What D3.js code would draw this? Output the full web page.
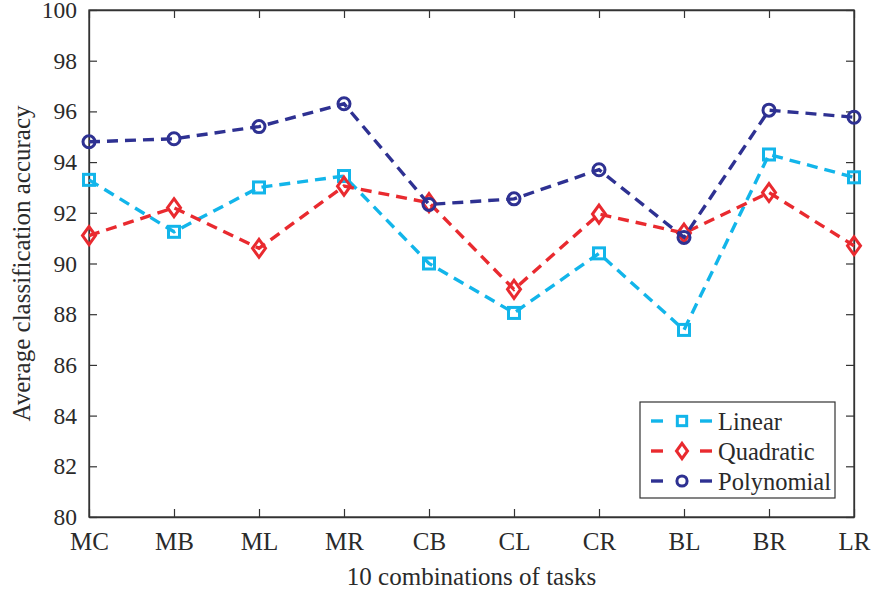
<!DOCTYPE html>
<html><head><meta charset="utf-8">
<script src="https://cdn.jsdelivr.net/npm/d3@7"></script>
<style>body{margin:0;background:#fff}svg{display:block}svg text{font-family:"Liberation Serif","Times New Roman",Times,serif}</style>
</head><body>
<script>
const categories = ["MC","MB","ML","MR","CB","CL","CR","BL","BR","LR"];
const linear     = [93.3, 91.25, 93.0, 93.45, 90.0, 88.05, 90.4, 87.38, 94.3, 93.4];
const quadratic  = [91.1, 92.2, 90.6, 93.05, 92.4, 88.98, 91.95, 91.2, 92.8, 90.7];
const polynomial = [94.8, 94.92, 95.4, 96.3, 92.33, 92.55, 93.7, 91.03, 96.05, 95.77];
const yTicks = [80,82,84,86,88,90,92,94,96,98,100];
const seriesNames = ["Linear","Quadratic","Polynomial"];

const W = 874, H = 591;
const m = {left:89, right:20, top:10, bottom:74};
const svg = d3.select("body").append("svg").attr("width",W).attr("height",H);
const font = "Liberation Serif, Times New Roman, Times, serif";
const axisColor = "#333";

const x = d3.scalePoint().domain(categories).range([m.left, W-m.right]);
const y = d3.scaleLinear().domain([80,100]).range([H-m.bottom, m.top]);

const iw = W-m.right-m.left;
const tickLen = 8;

// frame
svg.append("rect").attr("x",m.left).attr("y",m.top).attr("width",iw).attr("height",y(80)-m.top)
  .attr("fill","none").attr("stroke",axisColor).attr("stroke-width",1.3);

// axes
const gx = svg.append("g").attr("transform",`translate(0,${y(80)})`)
  .call(d3.axisBottom(x).tickSizeInner(-tickLen).tickSizeOuter(0).tickPadding(15));
const gxt = svg.append("g").attr("transform",`translate(0,${m.top})`)
  .call(d3.axisTop(x).tickSizeInner(-tickLen).tickSizeOuter(0).tickFormat(""));
const gy = svg.append("g").attr("transform",`translate(${m.left},0)`)
  .call(d3.axisLeft(y).tickValues(yTicks).tickSizeInner(-tickLen).tickSizeOuter(0).tickPadding(12));
const gyr = svg.append("g").attr("transform",`translate(${W-m.right},0)`)
  .call(d3.axisRight(y).tickValues(yTicks).tickSizeInner(-tickLen).tickSizeOuter(0).tickFormat(""));
[gx,gxt,gy,gyr].forEach(g=>{
  g.attr("font-family",font);
  g.select(".domain").attr("stroke",axisColor).attr("stroke-width",1.3);
  g.selectAll(".tick line").attr("stroke",axisColor).attr("stroke-width",1.2);
  g.selectAll(".tick text").attr("fill","#2a2a2a").attr("font-family",font);
});
gx.selectAll(".tick text").attr("dy","0.71em").style("font-size","25px");
gy.selectAll(".tick text").style("font-size","23.5px");

// axis titles
svg.append("text").attr("x",(m.left+W-m.right)/2).attr("y",585).attr("text-anchor","middle")
  .attr("font-family",font).style("font-size","25px").attr("fill","#2a2a2a").text("10 combinations of tasks");
svg.append("text").attr("transform",`translate(30,${(m.top+y(80))/2}) rotate(-90)`).attr("text-anchor","middle")
  .attr("font-family",font).style("font-size","25px").attr("fill","#2a2a2a").text("Average classification accuracy");

const series = [
  {name:seriesNames[0], values:linear, color:"#12B5EA", marker:"square"},
  {name:seriesNames[1], values:quadratic, color:"#E92A2F", marker:"diamond"},
  {name:seriesNames[2], values:polynomial, color:"#2E3192", marker:"circle"}
];

function drawMarker(g, type, cx, cy, color, k){
  k = k || 1;
  if(type==="square"){
    g.append("rect").attr("x",cx-5.5*k).attr("y",cy-5.5*k).attr("width",11*k).attr("height",11*k)
      .attr("fill","none").attr("stroke",color).attr("stroke-width",3);
  } else if(type==="diamond"){
    g.append("path").attr("d",`M${cx},${cy-9*k}L${cx+6.5*k},${cy}L${cx},${cy+9*k}L${cx-6.5*k},${cy}Z`)
      .attr("fill","none").attr("stroke",color).attr("stroke-width",3);
  } else {
    g.append("circle").attr("cx",cx).attr("cy",cy).attr("r",6*k)
      .attr("fill","none").attr("stroke",color).attr("stroke-width",3);
  }
}

const line = d3.line().x((d,i)=>x(categories[i])).y(d=>y(d));
series.forEach(s=>{
  svg.append("path").datum(s.values).attr("d",line).attr("fill","none")
    .attr("stroke",s.color).attr("stroke-width",3.4).attr("stroke-dasharray","11,7");
  const g = svg.append("g");
  s.values.forEach((v,i)=>drawMarker(g,s.marker,x(categories[i]),y(v),s.color));
});

// legend
const lg = svg.append("g");
lg.append("rect").attr("x",640).attr("y",402).attr("width",195).attr("height",96)
  .attr("fill","#fff").attr("stroke",axisColor).attr("stroke-width",1.2);
series.forEach((s,i)=>{
  const cy = 421 + i*30;
  lg.append("line").attr("x1",651).attr("x2",663).attr("y1",cy).attr("y2",cy)
    .attr("stroke",s.color).attr("stroke-width",3.4);
  drawMarker(lg,s.marker,682,cy,s.color,0.85);
  lg.append("line").attr("x1",700).attr("x2",712).attr("y1",cy).attr("y2",cy)
    .attr("stroke",s.color).attr("stroke-width",3.4);
  lg.append("text").attr("x",718).attr("y",cy).attr("dy","0.35em")
    .attr("font-family",font).style("font-size","24.5px").attr("fill","#2a2a2a").text(s.name);
});
</script>
</body></html>
